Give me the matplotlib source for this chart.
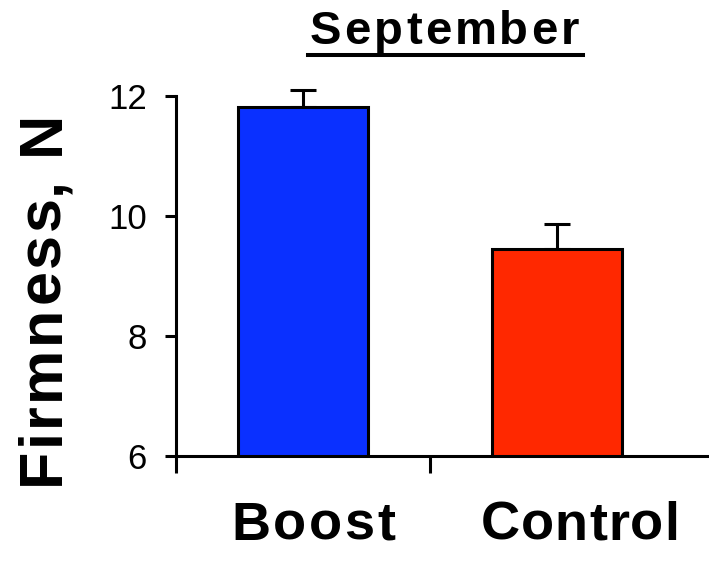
import numpy as np
import matplotlib
matplotlib.use('Agg')
import matplotlib.pyplot as plt
from matplotlib.font_manager import FontProperties, findfont
from matplotlib.ft2font import FT2Font
from matplotlib.lines import Line2D

# ---- data ----
categories = ['Boost', 'Control']
firmness = [11.82, 9.45]
err_upper = [0.28, 0.41]
yticks = [6, 8, 10, 12]
title_text = 'September'
ylabel_text = 'Firmness, N'
bar_colors = ['#0A30FF', '#FF2800']

W, H = 709, 561
fig = plt.figure(figsize=(W / 100, H / 100), dpi=100)
ax = fig.add_axes([176 / W, (H - 456) / H, (W - 176) / W, (456 - 66) / H])

x = np.arange(len(categories))
ax.bar(x, firmness, width=0.51, color=bar_colors, edgecolor='black',
       linewidth=2.2, zorder=2)
ax.errorbar(x, firmness, yerr=[np.zeros(len(x)), err_upper], fmt='none',
            ecolor='black', elinewidth=2.2, capsize=9.7, capthick=2.2, zorder=1.5)

ax.set_ylim(6, 12.5)
ax.set_xlim(-0.5, -0.5 + (W - 176) / 254)
ax.set_yticks(yticks)
ax.set_yticklabels([str(v) for v in yticks])
ax.set_xticks([-0.5, 0.5])
ax.set_xticklabels([])

for s in ['top', 'right']:
    ax.spines[s].set_visible(False)
ax.spines['left'].set_bounds(6, 12)
for s in ['left', 'bottom']:
    ax.spines[s].set_linewidth(2.2)
    ax.spines[s].set_zorder(5)
ax.tick_params(axis='y', direction='out', length=8, width=2.2, labelsize=25, pad=13)
ax.tick_params(axis='x', direction='out', length=12.5, width=2.2)
for lab in ax.get_yticklabels():
    lab.set_fontfamily('Liberation Sans')


def advances(s, fp):
    try:
        font = FT2Font(findfont(fp), hinting_factor=1)
        font.set_size(fp.get_size_in_points(), fig.dpi)
        return [font.load_char(ord(ch)).linearHoriAdvance / 65536.0 for ch in s]
    except Exception:
        r = fig.canvas.get_renderer()
        return [r.get_text_width_height_descent(ch, fp, ismath=False)[0] for ch in s]


def tracked(s, cx, cy, fp, target_w, rotation=0):
    adv = advances(s, fp)
    natural = sum(adv)
    track = (target_w - natural) / (len(s) - 1)
    total = natural + track * (len(s) - 1)
    pos = -total / 2
    for ch, a in zip(s, adv):
        if rotation == 0:
            fx, fy = cx + pos, cy
        else:
            fx, fy = cx, cy - pos
        fig.text(fx / W, 1 - fy / H, ch, fontproperties=fp, ha='left',
                 va='baseline', rotation=rotation, rotation_mode='anchor')
        pos += a + track


bold = lambda size: FontProperties(family='Liberation Sans', weight='bold', size=size)

# title with underline
tracked(title_text, 444.5, 44, bold(34), 269)
fig.add_artist(Line2D([308 / W, 583 / W], [1 - 55 / H, 1 - 55 / H],
                      transform=fig.transFigure, color='black', linewidth=2.9))

# y label
tracked(ylabel_text, 59, 298, bold(44), 374, rotation=90)

# category labels
label_dx_px = [10, 23]
label_w_px = [164, 199]
for xi, name, dx, tw in zip(x, categories, label_dx_px, label_w_px):
    px = ax.transData.transform((xi, 6))[0]
    tracked(name, px + dx, 540, bold(39), tw)

fig.savefig('out.png', dpi=100)
